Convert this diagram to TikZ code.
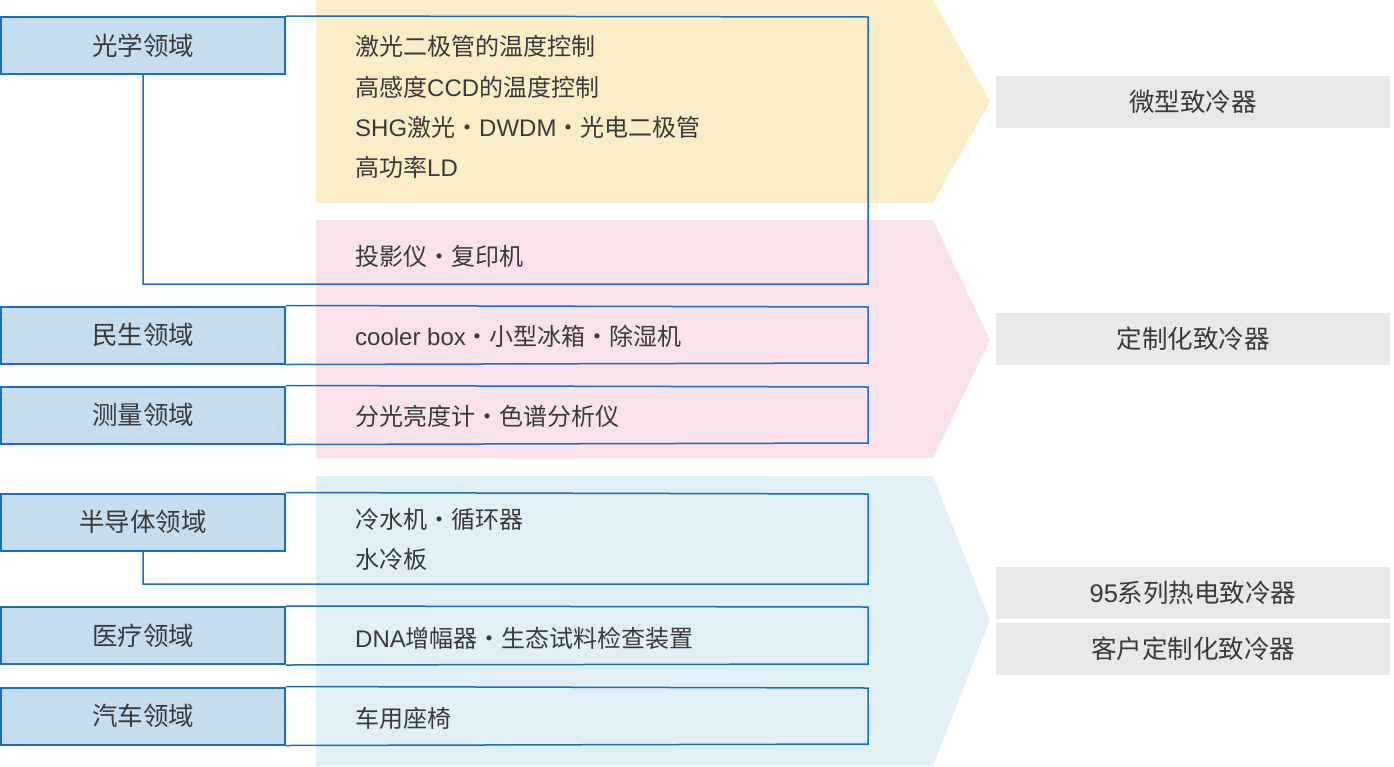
\documentclass[tikz,border=0pt]{standalone}
\usepackage{fontspec}
\setmainfont{Noto Sans CJK SC}
\newfontfamily\latfont{Liberation Sans}
\newcommand{\lat}[1]{{\latfont #1}}
\definecolor{cyel}{HTML}{FBEDC6}
\definecolor{cpink}{HTML}{F9E2EC}
\definecolor{cblue}{HTML}{E1F0F6}
\definecolor{labfill}{HTML}{C6DDF0}
\definecolor{edge}{HTML}{1A6FBD}
\definecolor{cgray}{HTML}{E8E8E8}
\definecolor{txt}{HTML}{3A3A3A}
\begin{document}
\begin{tikzpicture}[x=1pt,y=-1pt,
  lab/.style={draw=edge,line width=2pt,fill=labfill,minimum width=284pt,minimum height=57pt,inner sep=0pt,text=txt,font=\fontsize{25.5}{28}\selectfont},
  item/.style={anchor=west,inner sep=0pt,text=txt,font=\fontsize{24}{28}\selectfont},
  outl/.style={draw=edge,line width=1.5pt},
  gbox/.style={fill=cgray,minimum width=394pt,minimum height=52pt,inner sep=0pt,text=txt,font=\fontsize{25.5}{28}\selectfont}]
\useasboundingbox (0,0) rectangle (1394,766);
% chevrons
\fill[cyel] (316,0) -- (933,0) -- (990,101) -- (933,203) -- (316,203) -- cycle;
\fill[cpink] (316,220) -- (933,220) -- (990,340) -- (933,458) -- (316,458) -- cycle;
\fill[cblue] (316,476) -- (933,476) -- (990,620) -- (933,766) -- (316,766) -- cycle;
% label boxes
\node[lab] (L1) at (143,45.5) {光学领域};
\node[lab] (L2) at (143,335) {民生领域};
\node[lab] (L3) at (143,415) {测量领域};
\node[lab] (L4) at (143,522) {半导体领域};
\node[lab] (L5) at (143,635.5) {医疗领域};
\node[lab] (L6) at (143,716) {汽车领域};
% outlines
\coordinate (c1a) at (143,284); \coordinate (c1b) at (868,284); \coordinate (c1c) at (868,17);
\draw[outl] (L1.south) -- (c1a) -- (c1b) -- (c1c) -- (L1.north east);
\coordinate (c2a) at (868,307); \coordinate (c2b) at (868,363);
\draw[outl] (L2.north east) -- (c2a) -- (c2b) -- (L2.south east);
\coordinate (c3a) at (868,387); \coordinate (c3b) at (868,443);
\draw[outl] (L3.north east) -- (c3a) -- (c3b) -- (L3.south east);
\coordinate (c4a) at (143,584); \coordinate (c4b) at (868,584); \coordinate (c4c) at (868,494);
\draw[outl] (L4.south) -- (c4a) -- (c4b) -- (c4c) -- (L4.north east);
\coordinate (c5a) at (868,607); \coordinate (c5b) at (868,664);
\draw[outl] (L5.north east) -- (c5a) -- (c5b) -- (L5.south east);
\coordinate (c6a) at (868,688); \coordinate (c6b) at (868,744);
\draw[outl] (L6.north east) -- (c6a) -- (c6b) -- (L6.south east);
% redraw label boxes on top of the outlines
\node[lab] at (L1) {光学领域};
\node[lab] at (L2) {民生领域};
\node[lab] at (L3) {测量领域};
\node[lab] at (L4) {半导体领域};
\node[lab] at (L5) {医疗领域};
\node[lab] at (L6) {汽车领域};
% items
\node[item] (t1) at (355,46) {激光二极管的温度控制};
\node[item] (t2) at (355,87) {高感度\lat{CCD}的温度控制};
\node[item] (t3) at (355,127) {\lat{SHG}激光・\lat{DWDM}・光电二极管};
\node[item] (t4) at (355,167) {高功率\lat{LD}};
\node[item] (t5) at (355,256) {投影仪・复印机};
\node[item] (t6) at (355,336) {\lat{cooler box}・小型冰箱・除湿机};
\node[item] (t7) at (355,416) {分光亮度计・色谱分析仪};
\node[item] (t8) at (355,519) {冷水机・循环器};
\node[item] (t9) at (355,559) {水冷板};
\node[item] (t10) at (355,638) {\lat{DNA}增幅器・生态试料检查装置};
\node[item] (t11) at (355,718) {车用座椅};
% gray result boxes
\node[gbox] (g1) at (1193,102) {微型致冷器};
\node[gbox] (g2) at (1193,339) {定制化致冷器};
\node[gbox] (g3) at (1193,593) {\lat{95}系列热电致冷器};
\node[gbox] (g4) at (1193,649) {客户定制化致冷器};
\end{tikzpicture}
\end{document}
